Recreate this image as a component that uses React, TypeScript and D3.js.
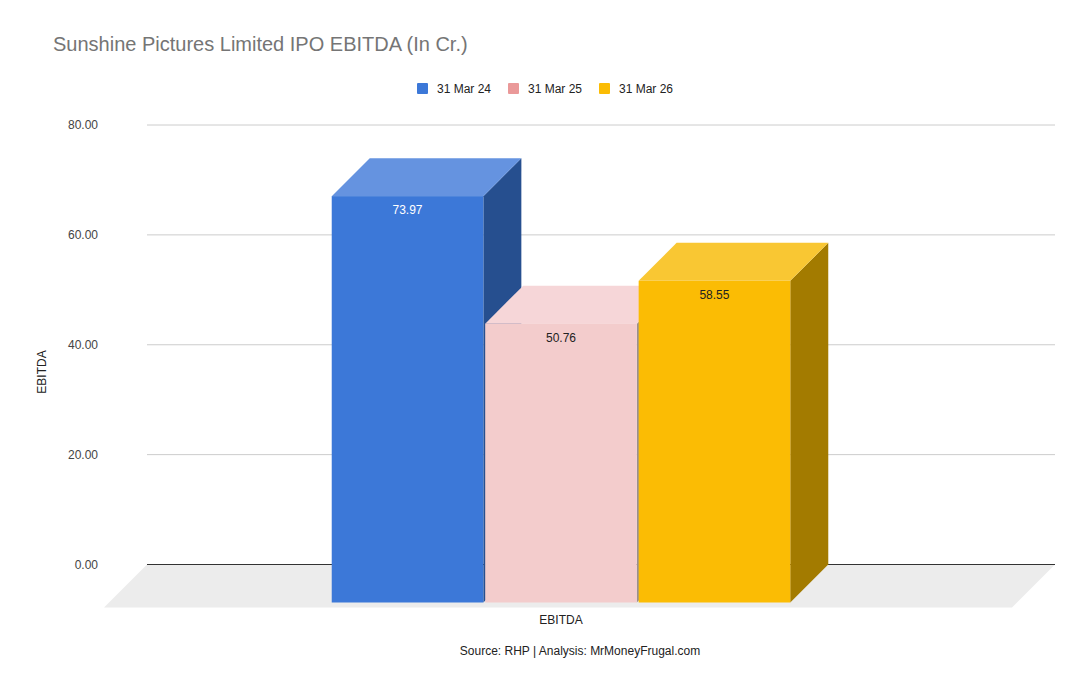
import React from "react";
import * as d3 from "d3";

const categories = ["EBITDA"];
const seriesNames = ["31 Mar 24", "31 Mar 25", "31 Mar 26"];
const seriesValues = [73.97, 50.76, 58.55];
const yTicks = [0, 20, 40, 60, 80];

const legendColors = ["#3c78d8", "#ea9999", "#fbbc04"];
const frontColors = ["#3c78d8", "#f3cccc", "#fbbc04"];
const topColors = ["#6593e0", "#f6d6d8", "#f9c733"];
const sideColors = ["#264f8f", "#9a9090", "#a37b00"];
const labelColors = ["#ffffff", "#222222", "#222222"];

const W = 1090;
const H = 694;
const FONT = "'Liberation Sans', Arial, sans-serif";

export default function App() {
  const backLeft = 147;
  const backRight = 1055;
  const floorDepth = 43;
  const barDepth = 38;

  const y = d3.scaleLinear().domain([0, 80]).range([564.5, 125]);
  const x0 = d3.scaleBand<string>().domain(categories).range([backLeft, backRight]).padding(0);
  const groupW = x0.bandwidth() * 0.505;
  const cx = (x0(categories[0]) as number) + x0.bandwidth() / 2 - 2;
  const x1 = d3
    .scaleBand<string>()
    .domain(seriesNames)
    .range([cx - groupW / 2, cx + groupW / 2])
    .paddingInner(0.012)
    .paddingOuter(0);

  const y0 = y(0);

  const floorPts = [
    [backLeft, y0],
    [backRight, y0],
    [backRight - floorDepth, y0 + floorDepth],
    [backLeft - floorDepth, y0 + floorDepth],
  ];

  return (
    <svg width={W} height={H} style={{ display: "block", position: "absolute", left: 0, top: 0 }} fontFamily={FONT}>
      <rect x={0} y={0} width={W} height={H} fill="#ffffff" />
      <text x={53} y={51} fontSize={20} fill="#757575">
        Sunshine Pictures Limited IPO EBITDA (In Cr.)
      </text>

      {/* legend */}
      {seriesNames.map((s, i) => {
        const lx = 417 + i * 91;
        return (
          <g key={s}>
            <rect x={lx} y={83} width={11} height={11} fill={legendColors[i]} rx={1} />
            <text x={lx + 20} y={92.5} fontSize={12} fill="#222">
              {s}
            </text>
          </g>
        );
      })}

      {/* floor */}
      <polygon points={floorPts.map((p) => p.join(",")).join(" ")} fill="#ececec" />

      {/* gridlines */}
      {yTicks.map((t) => (
        <g key={t}>
          {t !== 0 && <line x1={backLeft} x2={backRight} y1={y(t)} y2={y(t)} stroke="#cccccc" strokeWidth={1} />}
          <text x={98} y={y(t) + 4} fontSize={12} fill="#444" textAnchor="end">
            {t.toFixed(2)}
          </text>
        </g>
      ))}
      <line x1={backLeft} x2={backRight} y1={y0} y2={y0} stroke="#333333" strokeWidth={1} />

      {/* bars */}
      {seriesNames.map((s, i) => {
        const bx = x1(s) as number;
        const bw = x1.bandwidth();
        const yt = y(seriesValues[i]);
        const d = barDepth;
        const fx = bx - d;
        const fyTop = yt + d;
        const fyBot = y0 + d;
        const side = `${fx + bw},${fyTop} ${bx + bw},${yt} ${bx + bw},${y0} ${fx + bw},${fyBot}`;
        const top = `${fx},${fyTop} ${bx},${yt} ${bx + bw},${yt} ${fx + bw},${fyTop}`;
        return (
          <g key={s}>
            <polygon points={side} fill={sideColors[i]} />
            <polygon points={top} fill={topColors[i]} />
            <rect x={fx} y={fyTop} width={bw} height={fyBot - fyTop} fill={frontColors[i]} />
            <text x={fx + bw / 2} y={fyTop + 18} fontSize={12} fill={labelColors[i]} textAnchor="middle">
              {seriesValues[i].toFixed(2)}
            </text>
          </g>
        );
      })}

      {/* axis titles */}
      <text x={561} y={624} fontSize={12} fill="#222" textAnchor="middle">
        EBITDA
      </text>
      <text transform={`translate(46,372) rotate(-90)`} fontSize={12} fill="#222" textAnchor="middle">
        EBITDA
      </text>
      <text x={580} y={655} fontSize={12} fill="#222" textAnchor="middle">
        Source: RHP | Analysis: MrMoneyFrugal.com
      </text>
    </svg>
  );
}
